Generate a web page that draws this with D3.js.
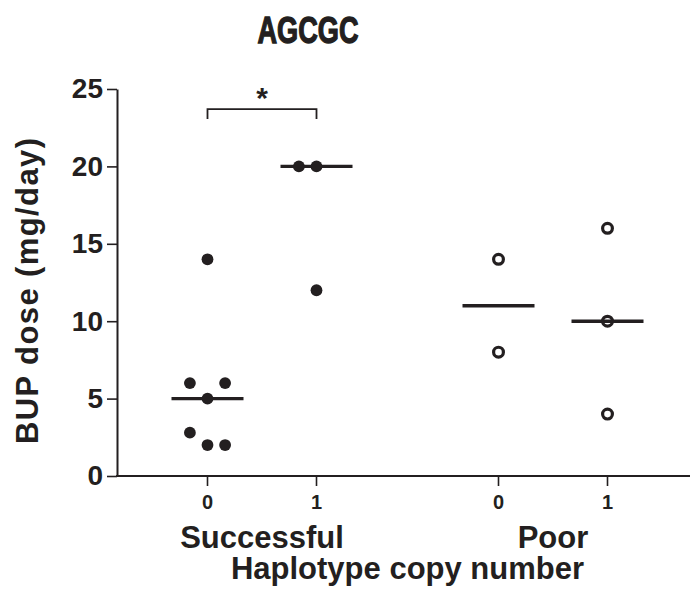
<!DOCTYPE html>
<html>
<head>
<meta charset="utf-8">
<script src="https://cdn.jsdelivr.net/npm/d3@7"></script>
<style>
  body { margin: 0; background: #fff; }
  text { font-family: "Liberation Sans", Arial, sans-serif; font-weight: bold; fill: #231f20; }
</style>
</head>
<body>
<div id="chart"></div>
<script>
// data
var title = "AGCGC";
var groups = ["Successful", "Poor"];
var copies = ["0", "1"];
var successful0 = [14, 5, 6, 6, 2, 2.8, 2];
var successful1 = [20, 20, 12];
var poor0 = [14, 8];
var poor1 = [16, 10, 4];
var yTicks = [0, 5, 10, 15, 20, 25];
var sigLevel = 23.7;   // height of the significance bracket (mg/day)
var sigLabel = "*";

var W = 690, H = 590;
var ink = "#231f20";

var svg = d3.select("#chart").append("svg")
    .attr("width", W)
    .attr("height", H);

// scales
var y = d3.scaleLinear().domain([0, 25]).range([476, 89]);
var xGroup = d3.scalePoint().domain(groups).range([262, 553]);
var xCopy = d3.scalePoint().domain(copies).range([-54.5, 54.5]);
var xCol = function(g, c) { return xGroup(g) + xCopy(c); };

var columns = [
    {group: "Successful", copy: "0", values: successful0, open: false},
    {group: "Successful", copy: "1", values: successful1, open: false},
    {group: "Poor", copy: "0", values: poor0, open: true},
    {group: "Poor", copy: "1", values: poor1, open: true}
];

// simple beeswarm: try centre, then left, then right
var step = 17.6, minDist = 17;
columns.forEach(function(col) {
    var placed = [];
    col.points = col.values.map(function(v) {
        var cx0 = xCol(col.group, col.copy), cy = y(v);
        var offs = [0, -step, step, -2 * step, 2 * step];
        for (var i = 0; i < offs.length; i++) {
            var cx = cx0 + offs[i];
            var hit = placed.some(function(p) { return Math.hypot(p.cx - cx, p.cy - cy) < minDist; });
            if (!hit) { var p = {cx: cx, cy: cy}; placed.push(p); return p; }
        }
    });
    col.median = d3.median(col.values);
});

// y axis
var yAxis = d3.axisLeft(y).tickValues(yTicks).tickSize(10).tickSizeOuter(0).tickPadding(4);
var gy = svg.append("g")
    .attr("transform", "translate(117,0)")
    .call(yAxis);
gy.select(".domain").attr("stroke", ink).attr("stroke-width", 2);
gy.selectAll(".tick line").attr("stroke", ink).attr("stroke-width", 1.6);
gy.selectAll(".tick text")
    .style("font-size", "28px")
    .attr("fill", ink);

// x axis
svg.append("line")
    .attr("x1", 116).attr("x2", W)
    .attr("y1", y(0)).attr("y2", y(0))
    .attr("stroke", ink).attr("stroke-width", 2);

svg.selectAll(".xtick")
    .data(columns)
    .enter().append("line")
    .attr("class", "xtick")
    .attr("x1", function(d) { return xCol(d.group, d.copy); })
    .attr("x2", function(d) { return xCol(d.group, d.copy); })
    .attr("y1", y(0)).attr("y2", y(0) + 10)
    .attr("stroke", ink).attr("stroke-width", 1.6);

svg.selectAll(".xlab")
    .data(columns)
    .enter().append("text")
    .attr("class", "xlab")
    .attr("x", function(d) { return xCol(d.group, d.copy); })
    .attr("y", 509)
    .attr("text-anchor", "middle")
    .style("font-size", "20px")
    .text(function(d) { return d.copy; });

svg.selectAll(".glab")
    .data(groups)
    .enter().append("text")
    .attr("class", "glab")
    .attr("x", function(d) { return xGroup(d); })
    .attr("y", 548)
    .attr("text-anchor", "middle")
    .style("font-size", "31px")
    .text(function(d) { return d; });

svg.append("text")
    .attr("x", (xGroup(groups[0]) + xGroup(groups[1])) / 2)
    .attr("y", 579)
    .attr("text-anchor", "middle")
    .style("font-size", "31px")
    .text("Haplotype copy number");

// y axis title
svg.append("text")
    .attr("transform", "translate(38," + 291 + ") rotate(-90)")
    .attr("text-anchor", "middle")
    .style("font-size", "31px")
    .attr("textLength", 306)
    .text("BUP dose (mg/day)");

// title (condensed look: squeeze a bold face, thicken with a stroke)
svg.append("text")
    .attr("x", 308)
    .attr("y", 43)
    .attr("text-anchor", "middle")
    .style("font-size", "36px")
    .attr("stroke", ink)
    .attr("stroke-width", 1.3)
    .attr("textLength", 101)
    .attr("lengthAdjust", "spacingAndGlyphs")
    .text(title);

// medians
svg.selectAll(".median")
    .data(columns)
    .enter().append("line")
    .attr("class", "median")
    .attr("x1", function(d) { return xCol(d.group, d.copy) - 36; })
    .attr("x2", function(d) { return xCol(d.group, d.copy) + 36; })
    .attr("y1", function(d) { return y(d.median); })
    .attr("y2", function(d) { return y(d.median); })
    .attr("stroke", ink).attr("stroke-width", 3.4);

// points
columns.forEach(function(col) {
    svg.selectAll(null)
        .data(col.points)
        .enter().append("circle")
        .attr("cx", function(d) { return d.cx; })
        .attr("cy", function(d) { return d.cy; })
        .attr("r", col.open ? 4.9 : 5.9)
        .attr("fill", col.open ? "none" : ink)
        .attr("stroke", col.open ? ink : "none")
        .attr("stroke-width", 3.2);
});

// significance bracket
var bx1 = xCol("Successful", "0"), bx2 = xCol("Successful", "1"), by = y(sigLevel);
svg.append("path")
    .attr("d", "M" + bx1 + "," + (by + 10) + "V" + by + "H" + bx2 + "V" + (by + 10))
    .attr("fill", "none")
    .attr("stroke", ink).attr("stroke-width", 1.8);
svg.append("text")
    .attr("x", (bx1 + bx2) / 2)
    .attr("y", by - 1)
    .attr("text-anchor", "middle")
    .style("font-size", "30px")
    .text(sigLabel);
</script>
</body>
</html>
